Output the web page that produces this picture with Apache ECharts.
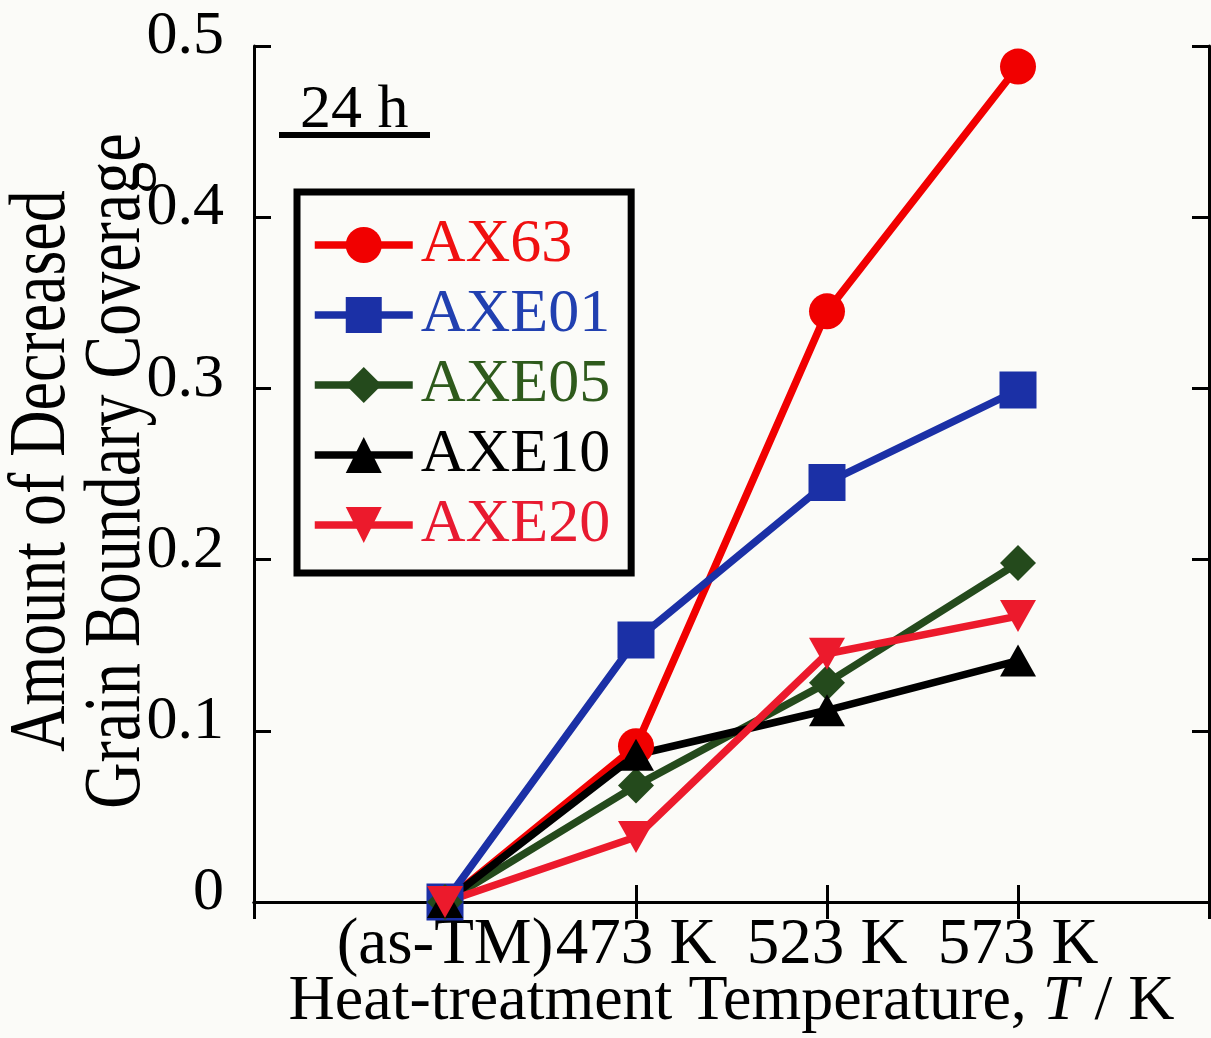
<!DOCTYPE html>
<html>
<head>
<meta charset="utf-8">
<script src="https://cdn.jsdelivr.net/npm/echarts@6/dist/echarts.min.js"></script>
<style>
  html, body { margin: 0; padding: 0; background: #fbfbf8; }
  #chart { width: 1211px; height: 1038px; }
</style>
</head>
<body>
<div id="chart"></div>
<script>
// Heat-treatment temperatures (blank slots pad the axis on both ends)
var categories = ['', '(as-TM)', '473 K', '523 K', '573 K', ''];

// Amount of decreased grain boundary coverage after 24 h
var seriesNames = ['AX63', 'AXE01', 'AXE05', 'AXE10', 'AXE20'];
var ax63  = [0, 0.091, 0.345, 0.488];
var axe01 = [0, 0.153, 0.245, 0.299];
var axe05 = [0, 0.068, 0.128, 0.198];
var axe10 = [0, 0.086, 0.112, 0.141];
var axe20 = [0, 0.038, 0.145, 0.167];

var yTicks = [0, 0.1, 0.2, 0.3, 0.4, 0.5];
var yTitle = 'Amount of Decreased\nGrain Boundary Coverage';

var FONT = 'Liberation Serif';
var LINE_W = 7.5;
var lineColors   = ['#f10000', '#1b30a6', '#244a1c', '#000000', '#ec1a2c'];
var legendColors = ['#f01010', '#2140b0', '#2e5a1c', '#000000', '#e81a30'];
var symbols = ['circle', 'rect', 'diamond', 'triangle', 'triangle'];
var symbolSizes = [36, 37, 36, [36, 32], [36, 32]];
var symbolRotates = [0, 0, 0, 0, 180];
var allValues = [ax63, axe01, axe05, axe10, axe20];

function padded(vals) {
  // leave the blank first and last slots empty
  return ['-'].concat(vals).concat(['-']);
}

var series = seriesNames.map(function (name, i) {
  return {
    name: name,
    type: 'line',
    data: padded(allValues[i]),
    symbol: symbols[i],
    symbolSize: symbolSizes[i],
    symbolRotate: symbolRotates[i],
    showAllSymbol: true,
    clip: false,
    color: lineColors[i],
    lineStyle: { color: lineColors[i], width: LINE_W },
    itemStyle: { color: lineColors[i] },
    emphasis: { disabled: true },
    animation: false
  };
});

var frameLine = { show: true, lineStyle: { color: '#000', width: 3 } };
var innerTick = { show: true, inside: true, length: 17, lineStyle: { color: '#000', width: 3 } };

var chart = echarts.init(document.getElementById('chart'), null, { renderer: 'canvas' });
chart.setOption({
  backgroundColor: '#fbfbf8',
  animation: false,
  textStyle: { fontFamily: FONT },
  grid: {
    left: 254, top: 46, width: 955, height: 856,
    containLabel: false, outerBoundsMode: 'none'
  },
  xAxis: [
    {
      type: 'category',
      data: categories,
      boundaryGap: false,
      position: 'bottom',
      axisLine: frameLine,
      axisTick: Object.assign({ alignWithLabel: true, interval: 0 }, innerTick),
      axisLabel: { interval: 0, fontFamily: FONT, fontSize: 65, color: '#000', margin: 11 },
      splitLine: { show: false },
      name: '{a|Heat-treatment Temperature, }{i|T}{a| / K}',
      nameLocation: 'middle',
      nameGap: 68,
      nameMoveOverlap: false,
      nameTextStyle: {
        rich: {
          a: { fontFamily: FONT, fontSize: 64, color: '#000' },
          i: { fontFamily: FONT, fontSize: 64, color: '#000', fontStyle: 'italic' }
        }
      }
    },
    {
      type: 'category',
      data: categories,
      boundaryGap: false,
      position: 'top',
      axisLine: frameLine,
      axisTick: Object.assign({ interval: 0 }, innerTick),
      axisLabel: { show: false },
      splitLine: { show: false }
    }
  ],
  yAxis: [
    {
      type: 'value',
      min: yTicks[0],
      max: yTicks[yTicks.length - 1],
      interval: 0.1,
      position: 'left',
      axisLine: frameLine,
      axisTick: innerTick,
      splitLine: { show: false },
      axisLabel: {
        fontFamily: FONT, fontSize: 62, color: '#000', margin: 30,
        verticalAlign: 'bottom', lineHeight: 18,
        formatter: function (v) { return v === 0 ? '0' : v.toFixed(1); }
      }
    },
    {
      type: 'value',
      min: yTicks[0],
      max: yTicks[yTicks.length - 1],
      interval: 0.1,
      position: 'right',
      axisLine: frameLine,
      axisTick: innerTick,
      axisLabel: { show: false },
      splitLine: { show: false }
    }
  ],
  legend: {
    orient: 'vertical',
    left: 297,
    top: 192,
    padding: [22, 21, 17, 14],
    itemGap: 8,
    itemWidth: 98,
    itemHeight: 45,
    borderColor: '#000',
    borderWidth: 7,
    backgroundColor: '#fbfbf8',
    selectedMode: false,
    lineStyle: { width: LINE_W },
    textStyle: { fontFamily: FONT, fontSize: 62, padding: [0, 0, 0, 3] },
    data: seriesNames.map(function (n, i) {
      return { name: n, textStyle: { color: legendColors[i] } };
    })
  },
  graphic: [
    {
      // two-line, narrow-set vertical axis title
      type: 'text',
      x: 80,
      y: 471,
      rotation: Math.PI / 2,
      scaleY: 1.25,
      style: {
        text: yTitle,
        fontFamily: FONT,
        fontSize: 64,
        lineHeight: 60,
        fill: '#000',
        align: 'center',
        verticalAlign: 'middle'
      }
    },
    {
      type: 'text',
      left: 300,
      top: 80,
      style: { text: '24 h', fontFamily: FONT, fontSize: 62, fill: '#000' }
    },
    {
      type: 'rect',
      shape: { x: 279, y: 132, width: 151, height: 6 },
      style: { fill: '#000' }
    }
  ],
  series: series
});
</script>
</body>
</html>
